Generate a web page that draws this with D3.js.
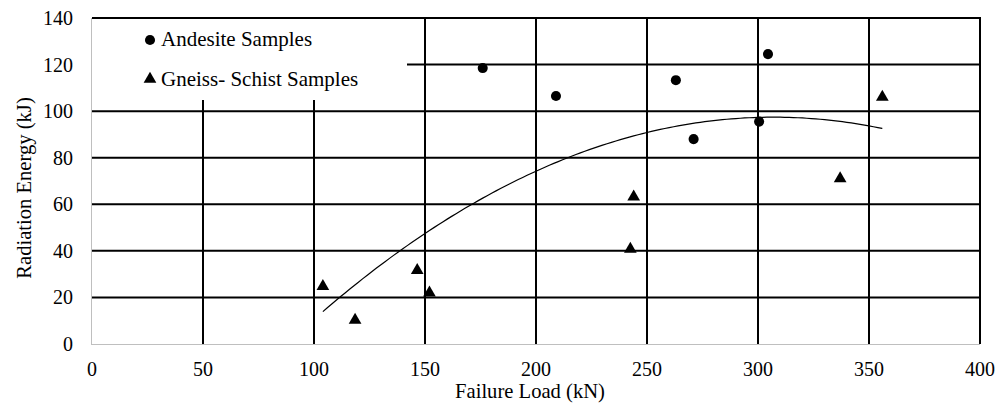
<!DOCTYPE html>
<html>
<head>
<meta charset="utf-8">
<script src="https://cdn.jsdelivr.net/npm/d3@7"></script>
<style>
  body { margin: 0; background: #fff; }
</style>
</head>
<body>
<div id="chart"></div>
<script>
var andesiteLoad = [176, 209, 263, 271, 300.5, 304.5];
var andesiteEnergy = [118.5, 106.5, 113.3, 88, 95.5, 124.5];

var gneissLoad = [104, 118.5, 146.5, 152, 242.5, 244, 337, 356];
var gneissEnergy = [24.8, 10.3, 31.6, 22, 40.8, 63.2, 71, 106];

// polynomial trendline (order 2) as shown in the figure
var trendCoef = [-0.002026, 1.2440, -93.55];
var trendRange = [104, 356];

var xTicks = [0, 50, 100, 150, 200, 250, 300, 350, 400];
var yTicks = [0, 20, 40, 60, 80, 100, 120, 140];

var seriesNames = ["Andesite Samples", "Gneiss- Schist Samples"];

var W = 999, H = 406;
var margin = { top: 18, right: 19, bottom: 62, left: 92 },
    width = W - margin.left - margin.right,
    height = H - margin.top - margin.bottom;
var fontFam = "'Liberation Serif', Tinos, 'Times New Roman', Times, serif";

var svg = d3.select("#chart").append("svg")
    .attr("width", W)
    .attr("height", H)
    .attr("font-family", fontFam)
    .style("font-family", fontFam);

var g = svg.append("g")
    .attr("transform", "translate(" + margin.left + "," + margin.top + ")");

var x = d3.scaleLinear().domain([0, 400]).range([0, width]);
var y = d3.scaleLinear().domain([0, 140]).range([height, 0]);

// gridlines
g.selectAll(".vgrid")
    .data(xTicks.filter(function (d) { return d > 0; }))
    .enter().append("line")
    .attr("class", "vgrid")
    .attr("x1", function (d) { return x(d); })
    .attr("x2", function (d) { return x(d); })
    .attr("y1", 0)
    .attr("y2", height)
    .attr("stroke", "#000")
    .attr("stroke-width", 2);

g.selectAll(".hgrid")
    .data(yTicks.filter(function (d) { return d > 0; }))
    .enter().append("line")
    .attr("class", "hgrid")
    .attr("x1", 0)
    .attr("x2", width + 1)
    .attr("y1", function (d) { return y(d); })
    .attr("y2", function (d) { return y(d); })
    .attr("stroke", "#000")
    .attr("stroke-width", 2);

// axis lines
g.append("line")
    .attr("x1", 0).attr("x2", width)
    .attr("y1", height + 0.5).attr("y2", height + 0.5)
    .attr("stroke", "#bfbfbf")
    .attr("stroke-width", 1);
g.append("line")
    .attr("x1", -0.5).attr("x2", -0.5)
    .attr("y1", 0).attr("y2", height + 1)
    .attr("stroke", "#bfbfbf")
    .attr("stroke-width", 1);

// tick labels
g.selectAll(".xlab")
    .data(xTicks)
    .enter().append("text")
    .attr("class", "xlab")
    .attr("x", function (d) { return x(d); })
    .attr("y", height + 31.5)
    .attr("text-anchor", "middle")
    .style("font-size", "20px")
    .text(function (d) { return d; });

g.selectAll(".ylab")
    .data(yTicks)
    .enter().append("text")
    .attr("class", "ylab")
    .attr("x", -19)
    .attr("y", function (d) { return y(d) + 7; })
    .attr("text-anchor", "end")
    .style("font-size", "20px")
    .text(function (d) { return d; });

// axis titles
svg.append("text")
    .attr("x", 530)
    .attr("y", 398)
    .attr("text-anchor", "middle")
    .style("font-size", "20.6px")
    .text("Failure Load (kN)");

svg.append("text")
    .attr("transform", "translate(31,188) rotate(-90)")
    .attr("text-anchor", "middle")
    .style("font-size", "20.6px")
    .text("Radiation Energy (kJ)");

// legend box
var legend = g.append("g");
legend.append("rect")
    .attr("x", 0)
    .attr("y", 1)
    .attr("width", 315)
    .attr("height", 81)
    .attr("fill", "#fff");

// trendline
var trendX = d3.range(trendRange[0], trendRange[1] + 0.5, 2);
var line = d3.line()
    .x(function (d) { return x(d); })
    .y(function (d) { return y(trendCoef[0] * d * d + trendCoef[1] * d + trendCoef[2]); })
    .curve(d3.curveMonotoneX);

g.append("path")
    .datum(trendX)
    .attr("d", line)
    .attr("fill", "none")
    .attr("stroke", "#000")
    .attr("stroke-width", 1.2);

// markers
var circleSym = d3.symbol().type(d3.symbolCircle).size(80);
var triSym = d3.symbol().type(d3.symbolTriangle).size(70);

g.selectAll(".andesite")
    .data(andesiteLoad)
    .enter().append("path")
    .attr("class", "andesite")
    .attr("d", circleSym)
    .attr("transform", function (d, i) {
        return "translate(" + x(d) + "," + y(andesiteEnergy[i]) + ")";
    })
    .attr("fill", "#000");

g.selectAll(".gneiss")
    .data(gneissLoad)
    .enter().append("path")
    .attr("class", "gneiss")
    .attr("d", triSym)
    .attr("transform", function (d, i) {
        return "translate(" + x(d) + "," + y(gneissEnergy[i]) + ")";
    })
    .attr("fill", "#000");

// legend entries
legend.append("path")
    .attr("d", circleSym)
    .attr("transform", "translate(58,22)")
    .attr("fill", "#000");
legend.append("text")
    .attr("x", 69)
    .attr("y", 27.5)
    .style("font-size", "21px")
    .text(seriesNames[0]);

legend.append("path")
    .attr("d", triSym)
    .attr("transform", "translate(58,61)")
    .attr("fill", "#000");
legend.append("text")
    .attr("x", 69)
    .attr("y", 68)
    .style("font-size", "21px")
    .text(seriesNames[1]);
</script>
</body>
</html>
